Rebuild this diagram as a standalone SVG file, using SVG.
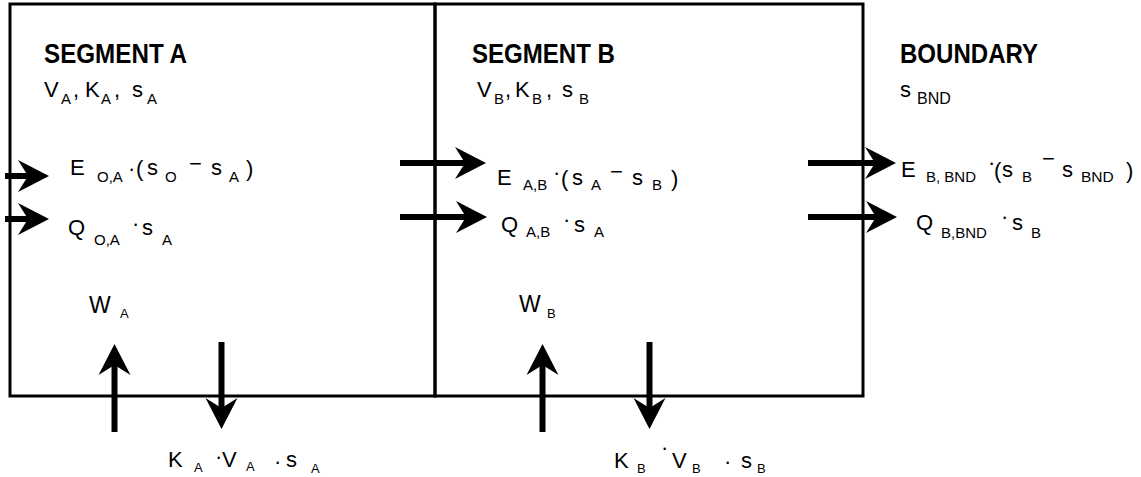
<svg xmlns="http://www.w3.org/2000/svg" width="1141" height="477" viewBox="0 0 1141 477">
<style>
text{font-family:"Liberation Sans",Arial,sans-serif;fill:#000}
.b{font-weight:bold;font-size:28px}
.m{font-size:22px}
.s{font-size:15px}
.t{font-size:13px}
.box{fill:none;stroke:#000;stroke-width:3}
.arr{stroke:#000;stroke-width:6;fill:none;marker-end:url(#ah)}
</style>
<defs>
<marker id="ah" markerUnits="userSpaceOnUse" markerWidth="34" markerHeight="34" refX="12" refY="16" orient="auto" overflow="visible">
<path d="M0,0 L31,16 L0,32 L10,16 Z" fill="#000"/>
</marker>
</defs>
<rect width="1141" height="477" fill="#fff"/>
<g id="segment-a">
<rect class="box" x="10" y="4" width="425" height="392"/>
<text class="b" x="44" y="63" textLength="143" lengthAdjust="spacingAndGlyphs">SEGMENT A</text>
<text class="m"><tspan x="44" y="97">V</tspan><tspan class="s" x="61" y="104">A</tspan><tspan x="73" y="97">,</tspan><tspan x="85" y="97">K</tspan><tspan class="s" x="101" y="104">A</tspan><tspan x="114" y="97">,</tspan><tspan x="132" y="97">s</tspan><tspan class="s" x="147" y="104">A</tspan></text>
</g>
<g id="segment-b">
<rect class="box" x="435" y="4" width="428" height="392"/>
<text class="b" x="472" y="63" textLength="143" lengthAdjust="spacingAndGlyphs">SEGMENT B</text>
<text class="m"><tspan x="477" y="97">V</tspan><tspan class="s" x="494" y="104">B</tspan><tspan x="505" y="97">,</tspan><tspan x="515" y="97">K</tspan><tspan class="s" x="532" y="104">B</tspan><tspan x="546" y="97">,</tspan><tspan x="562" y="97">s</tspan><tspan class="s" x="579" y="104">B</tspan></text>
</g>
<g id="boundary">
<text class="b" x="900" y="63" textLength="138" lengthAdjust="spacingAndGlyphs">BOUNDARY</text>
<text class="m"><tspan x="900" y="97">s</tspan><tspan x="917" y="104" style="font-size:16px">BND</tspan></text>
</g>
<g id="connectors">
<line class="arr" x1="5" y1="176" x2="30" y2="176"/>
<line class="arr" x1="5" y1="219" x2="30" y2="219"/>
<line class="arr" x1="400" y1="163" x2="467" y2="163"/>
<line class="arr" x1="400" y1="217" x2="468" y2="217"/>
<line class="arr" x1="808" y1="163" x2="877" y2="163"/>
<line class="arr" x1="808" y1="217" x2="878" y2="217"/>
<line class="arr" x1="114.5" y1="432" x2="114.5" y2="363"/>
<line class="arr" x1="221.5" y1="342" x2="221.5" y2="410"/>
<line class="arr" x1="542.5" y1="432" x2="542.5" y2="363"/>
<line class="arr" x1="649.5" y1="342" x2="649.5" y2="410"/>
</g>
<g id="flux-e-oa">
<text class="m"><tspan x="70" y="175">E</tspan><tspan class="s" x="97" y="182">O,A</tspan><tspan x="128" y="176">·</tspan><tspan x="136" y="176">(</tspan><tspan x="147" y="175">s</tspan><tspan class="s" x="165" y="182">O</tspan><tspan x="189" y="171">−</tspan><tspan x="211" y="175">s</tspan><tspan class="s" x="229" y="182">A</tspan><tspan x="246" y="176">)</tspan></text>
</g>
<g id="flux-q-oa">
<text class="m"><tspan x="68" y="235">Q</tspan><tspan class="s" x="94" y="245">O,A</tspan><tspan x="132" y="231">·</tspan><tspan x="142" y="235">s</tspan><tspan class="s" x="162" y="245">A</tspan></text>
</g>
<g id="flux-e-ab">
<text class="m"><tspan x="553" y="180">·</tspan><tspan x="561" y="186">(</tspan><tspan x="572" y="185">s</tspan><tspan class="s" x="591" y="190">A</tspan><tspan x="610" y="179">−</tspan><tspan x="632" y="185">s</tspan><tspan class="s" x="652" y="190">B</tspan><tspan x="671" y="186">)</tspan></text>
<text class="m"><tspan x="497" y="185">E</tspan><tspan class="s" x="523" y="190">A,B</tspan></text>
</g>
<g id="flux-q-ab">
<text class="m"><tspan x="501" y="232">Q</tspan><tspan class="s" x="526" y="237">A,B</tspan><tspan x="563" y="227">·</tspan><tspan x="574" y="232">s</tspan><tspan class="s" x="594" y="237">A</tspan></text>
</g>
<g id="flux-e-bbnd">
<text class="m"><tspan x="901" y="177">E</tspan><tspan class="s" x="926" y="182">B, BND</tspan><tspan x="988" y="170">·</tspan><tspan x="994" y="178">(</tspan><tspan x="1002" y="177">s</tspan><tspan class="s" x="1022" y="182">B</tspan><tspan x="1042" y="166">−</tspan><tspan x="1062" y="177">s</tspan><tspan class="s" x="1081" y="182" style="font-size:15.5px">BND</tspan><tspan x="1126" y="178">)</tspan></text>
</g>
<g id="flux-q-bbnd">
<text class="m"><tspan x="916" y="230">Q</tspan><tspan class="s" x="941" y="238">B,BND</tspan><tspan x="1001" y="224">·</tspan><tspan x="1012" y="230">s</tspan><tspan class="s" x="1031" y="238">B</tspan></text>
</g>
<g id="flux-w-a">
<text style="font-size:23px"><tspan x="89" y="313">W</tspan><tspan class="t" x="120" y="318">A</tspan></text>
</g>
<g id="flux-w-b">
<text style="font-size:23px"><tspan x="519" y="312">W</tspan><tspan class="t" x="547" y="318">B</tspan></text>
</g>
<g id="flux-k-a">
<text class="m"><tspan x="168" y="467">K</tspan><tspan class="t" x="194" y="472">A</tspan><tspan x="215" y="464">·</tspan><tspan x="222" y="467">V</tspan><tspan class="t" x="246" y="471">A</tspan><tspan x="274" y="469">·</tspan><tspan x="286" y="467">s</tspan><tspan class="t" x="311" y="473">A</tspan></text>
</g>
<g id="flux-k-b">
<text class="m"><tspan x="614" y="468">K</tspan><tspan class="t" x="637" y="473">B</tspan><tspan x="661" y="455">·</tspan><tspan x="672" y="468">V</tspan><tspan class="t" x="692" y="473">B</tspan><tspan x="724" y="469">·</tspan><tspan x="741" y="468">s</tspan><tspan class="t" x="757" y="473">B</tspan></text>
</g>
</svg>
